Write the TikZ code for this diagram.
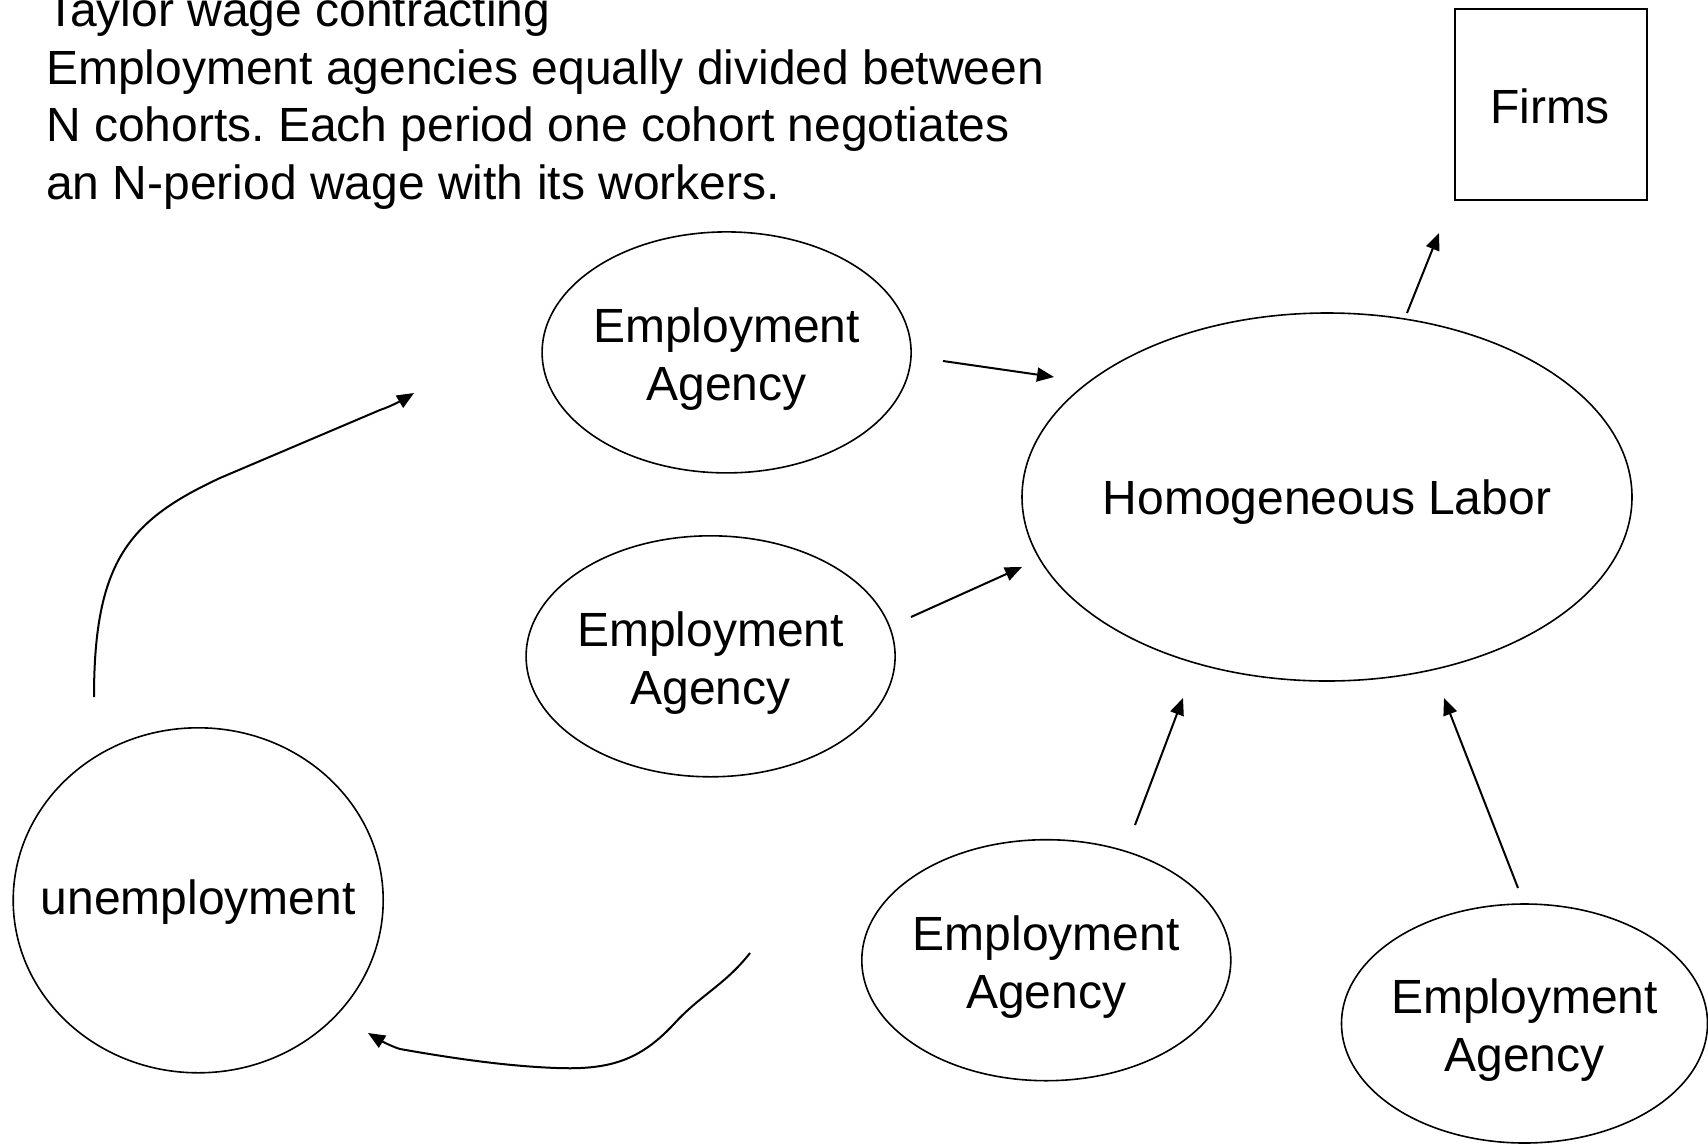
\documentclass[tikz,border=0pt]{standalone}
\usepackage{fontspec}
\setmainfont{Liberation Sans}
\usetikzlibrary{shapes.geometric,arrows.meta}
\begin{document}
\frenchspacing
\begin{tikzpicture}[x=1pt,y=-1pt,
  every node/.style={font=\fontsize{48}{58}\selectfont},
  oval/.style={ellipse,draw,line width=1.6pt,inner sep=0pt},
  agency/.style={oval,minimum width=369pt,minimum height=241pt},
  lbl/.style={align=center,inner sep=0pt},
  txtline/.style={anchor=base west,inner sep=0pt},
  conn/.style={line width=2pt,-{Triangle[length=17pt,width=14pt]}}]
\useasboundingbox (0,0) rectangle (1708,1144);
% text
\node[txtline] (title) at (46,26) {Taylor wage contracting};
\node[txtline] (l1) at (46,84) {Employment agencies equally divided between};
\node[txtline] (l2) at (46,141.7) {N cohorts. Each period one cohort negotiates};
\node[txtline] (l3) at (46,199.3) {an N-period wage with its workers.};
% nodes
\node[draw,line width=1.6pt,minimum width=192pt,minimum height=191pt,inner sep=0pt] (firms) at (1551,104.5) {};
\node[lbl] (firmstxt) at (1550,106) {Firms};
\node[oval,minimum width=610pt,minimum height=368pt] (labor) at (1327,497) {};
\node[lbl] (labortxt) at (1327,502) {Homogeneous Labor};
\node[agency] (ea1) at (726.6,352.4) {};
\node[lbl] (ea1t) at (726.6,359) {Employment\\Agency};
\node[agency] (ea2) at (710.6,656.3) {};
\node[lbl] (ea2t) at (710.6,663) {Employment\\Agency};
\node[agency] (ea3) at (1046.3,960.2) {};
\node[lbl] (ea3t) at (1046.3,967) {Employment\\Agency};
\node[oval,minimum width=366pt,minimum height=239pt] (ea4) at (1524.5,1023.5) {};
\node[lbl] (ea4t) at (1524.5,1030) {Employment\\Agency};
\node[oval,minimum width=370pt,minimum height=345pt] (unemp) at (198.2,900.3) {};
\node[lbl] (unempt) at (198.2,902) {unemployment};
% connector end points
\coordinate (a1s) at (943,361);  \coordinate (a1e) at (1054,377);
\coordinate (a2s) at (911,617);  \coordinate (a2e) at (1022,567);
\coordinate (a3s) at (1135,825); \coordinate (a3e) at (1183,698);
\coordinate (a4s) at (1518,888); \coordinate (a4e) at (1444,698);
\coordinate (a5s) at (1407,313); \coordinate (a5e) at (1439,233);
\coordinate (c1s) at (94,697);   \coordinate (c1e) at (414,393);
\coordinate (c2s) at (750,953);  \coordinate (c2e) at (368,1033);
% connectors
\draw[conn] (a1s) -- (a1e);
\draw[conn] (a2s) -- (a2e);
\draw[conn] (a3s) -- (a3e);
\draw[conn] (a4s) -- (a4e);
\draw[conn] (a5s) -- (a5e);
\draw[conn] (c1s) .. controls (94,560) and (130,520) .. (220,478)
  -- (380,410)
  .. controls (392,406) and (404,399) .. (c1e);
\draw[conn] (c2s) .. controls (725,985) and (700,995) .. (673,1025)
  .. controls (640,1060) and (610,1070) .. (557,1068)
  .. controls (500,1066) and (440,1056) .. (400,1049)
  .. controls (390,1046) and (378,1039) .. (c2e);
\end{tikzpicture}
\end{document}
